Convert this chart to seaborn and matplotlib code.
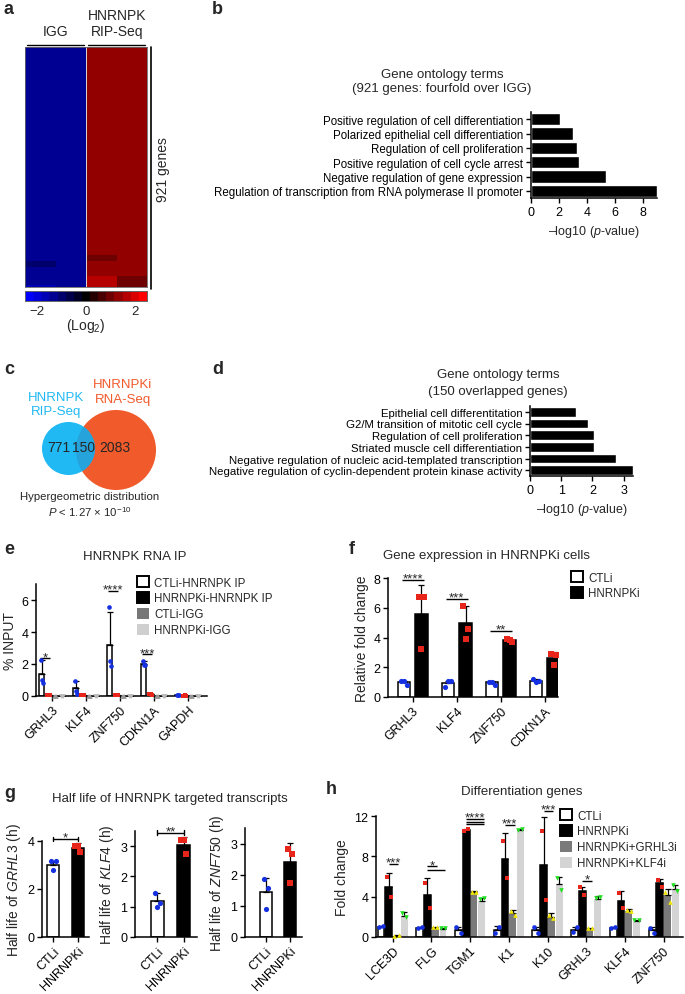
import numpy as np
import pandas as pd
import matplotlib
matplotlib.use("Agg")
import matplotlib.pyplot as plt
import seaborn as sns
from matplotlib.colors import LinearSegmentedColormap
from matplotlib.patches import Circle, Patch
from matplotlib import transforms

# ======================= DATA =======================
# a: heatmap, 921 genes shown as row blocks (rows per block, values for 4 columns)
heat_block_rows = [720, 65, 15, 23, 23, 34, 35, 6]
heat_block_vals = [
    [-1.45, -1.45, 1.45, 1.45],
    [-1.45, -1.45, 1.45, 1.30],
    [-1.45, -1.45, 1.20, 1.30],
    [-1.45, -1.45, 0.95, 1.30],
    [-1.15, -1.45, 1.40, 1.30],
    [-1.45, -1.45, 1.45, 1.40],
    [-1.45, -1.45, 1.80, 0.95],
    [-1.70, -1.45, 1.80, 0.95],
]

# b: GO terms (921 genes)
go_b_terms = ["Positive regulation of cell differentiation",
              "Polarized epithelial cell differentiation",
              "Regulation of cell proliferation",
              "Positive regulation of cell cycle arrest",
              "Negative regulation of gene expression",
              "Regulation of transcription from RNA polymerase II promoter"]
go_b_vals = [2.1, 3.0, 3.3, 3.45, 5.35, 9.0]

# c: Venn counts
venn_counts = [771, 150, 2083]

# d: GO terms (150 genes)
go_d_terms = ["Epithelial cell differentitation",
              "G2/M transition of mitotic cell cycle",
              "Regulation of cell proliferation",
              "Striated muscle cell differentiation",
              "Negative regulation of nucleic acid-templated transcription",
              "Negative regulation of cyclin-dependent protein kinase activity"]
go_d_vals = [1.47, 1.85, 2.04, 2.05, 2.74, 3.3]

# e: HNRNPK RNA IP
e_genes = ["GRHL3", "KLF4", "ZNF750", "CDKN1A", "GAPDH"]
e_conds = ["CTLi-HNRNPK IP", "HNRNPKi-HNRNPK IP", "CTLi-IGG", "HNRNPKi-IGG"]
e_means = [[1.35, 0.48, 3.2, 2.02, 0.05],
           [0.05, 0.05, 0.05, 0.10, 0.03],
           [0.02, 0.02, 0.02, 0.02, 0.02],
           [0.02, 0.02, 0.02, 0.02, 0.02]]
e_errs = [[0.9, 0.45, 2.05, 0.18, 0.02],
          [0.02, 0.02, 0.02, 0.04, 0.01],
          [0.0, 0.0, 0.0, 0.0, 0.0],
          [0.0, 0.0, 0.0, 0.0, 0.0]]
e_points = [
    [[2.25, 0.8, 1.0], [0.95, 0.15, 0.3], [5.55, 1.9, 2.2], [2.2, 1.95, 1.95], [0.08, 0.06, 0.07]],
    [[0.05, 0.04, 0.06], [0.04, 0.05, 0.06], [0.05, 0.06, 0.04], [0.12, 0.08, 0.10], [0.03, 0.02, 0.04]],
    [[0.02, 0.01, 0.02], [0.02, 0.01, 0.02], [0.02, 0.01, 0.02], [0.02, 0.01, 0.02], [0.02, 0.01, 0.02]],
    [[0.02, 0.01, 0.02], [0.02, 0.01, 0.02], [0.02, 0.01, 0.02], [0.02, 0.01, 0.02], [0.02, 0.01, 0.02]],
]
e_sig_gene = [0, 2, 3]
e_sig_y = [2.35, 6.55, 2.6]
e_sig_text = ["*", "****", "***"]

# f: gene expression in HNRNPKi cells
f_genes = ["GRHL3", "KLF4", "ZNF750", "CDKN1A"]
f_conds = ["CTLi", "HNRNPKi"]
f_means = [[1.0, 0.95, 1.0, 1.1], [5.55, 4.95, 3.85, 2.65]]
f_errs = [[0.1, 0.15, 0.08, 0.1], [2.0, 1.15, 0.08, 0.37]]
f_points = [
    [[1.1, 0.8, 1.05], [0.65, 1.05, 1.1], [1.0, 0.8, 1.0], [1.2, 1.05, 1.0]],
    [[6.7, 6.7, 3.2], [6.15, 4.6, 3.9], [3.9, 3.7, 3.85], [2.9, 2.85, 2.15]],
]
f_sig_gene = [0, 1, 2]
f_sig_y = [7.87, 6.6, 4.45]
f_sig_text = ["****", "***", "**"]

# g: half lives
g_genes = ["GRHL3", "KLF4", "ZNF750"]
g_conds = ["CTLi", "HNRNPKi"]
g_ctl = [3.02, 1.19, 1.45]
g_ctl_err = [0.12, 0.27, 0.45]
g_kd = [3.72, 3.05, 2.42]
g_kd_err = [0.18, 0.25, 0.6]
g_ctl_pts = [[3.15, 3.15, 2.8], [1.46, 1.12, 0.98], [1.85, 1.57, 0.9]]
g_kd_pts = [[3.8, 3.54, 3.8], [3.2, 2.74, 3.2], [2.84, 2.68, 1.73]]
g_ylims = [4, 3.5, 3.5]
g_yticks = [[0, 2, 4], [0, 1, 2, 3], [0, 1, 2, 3]]
g_sig_y = [4.1, 3.45, None]
g_sig_text = ["*", "**", None]

# h: differentiation genes
h_genes = ["LCE3D", "FLG", "TGM1", "K1", "K10", "GRHL3", "KLF4", "ZNF750"]
h_conds = ["CTLi", "HNRNPKi", "HNRNPKi+GRHL3i", "HNRNPKi+KLF4i"]
h_means = [[1.0, 0.9, 0.7, 0.7, 0.65, 0.7, 0.85, 0.65],
           [5.0, 4.2, 10.6, 7.75, 7.1, 4.6, 3.6, 5.4],
           [0.1, 0.9, 4.45, 2.35, 2.0, 0.8, 2.6, 4.2],
           [2.1, 0.75, 3.6, 10.6, 5.25, 3.8, 1.6, 4.75]]
h_errs = [[0.1, 0.1, 0.3, 0.35, 0.35, 0.3, 0.1, 0.3],
          [1.3, 1.7, 0.1, 2.55, 4.8, 0.4, 1.0, 0.4],
          [0.05, 0.1, 0.1, 0.35, 0.35, 0.1, 0.15, 0.6],
          [0.4, 0.15, 0.3, 0.1, 0.7, 0.3, 0.1, 0.45]]
h_points = [
    [[1.0, 1.1], [0.85, 0.95], [0.95, 0.4], [0.4, 0.95], [1.0, 0.35], [0.5, 1.0], [0.85, 0.95], [0.9, 0.35]],
    [[6.0, 4.0], [5.4, 2.9], [10.55, 10.7], [9.55, 5.9], [10.5, 3.7], [5.0, 4.2], [4.4, 2.85], [5.7, 5.0]],
    [[0.1, 0.15], [1.0, 0.95], [4.5, 4.5], [2.55, 2.2], [2.2, 1.9], [0.85, 0.85], [2.7, 2.6], [4.5, 3.5]],
    [[2.4, 2.0], [0.9, 0.85], [3.8, 3.9], [10.6, 10.7], [5.9, 4.7], [3.9, 4.0], [1.7, 1.7], [5.2, 4.6]],
]
h_sig_gene = [0, 1, 1, 2, 2, 2, 3, 4, 5]
h_sig_from = [1, 1, 1, 1, 1, 1, 1, 1, 1]
h_sig_to = [2, 2, 3, 3, 3, 3, 2, 2, 2]
h_sig_y = [7.25, 7.0, 6.65, 11.7, 11.45, 11.2, 11.1, 12.5, 5.6]
h_sig_text = ["***", "*", "", "****", "", "", "***", "***", "*"]

# ======================= STYLE =======================
sns.set_theme(style="ticks")
plt.rcParams["font.family"] = ["Liberation Sans", "DejaVu Sans"]
plt.rcParams["mathtext.fontset"] = "custom"
plt.rcParams["mathtext.rm"] = "Liberation Sans"
plt.rcParams["mathtext.it"] = "Liberation Sans:italic"
plt.rcParams["axes.linewidth"] = 1.0
plt.rcParams["axes.unicode_minus"] = True

FS_TICK = 9
FS_LAB = 9
FS_TITLE = 9.5
FS_LEG = 8.3
FS_GO_B = 8.3
FS_GO_D = 8.2
FS_SIG = 9.5

W, H = 685, 995
fig = plt.figure(figsize=(W / 100, H / 100), dpi=100)


def add_ax(x0, y0, x1, y1):
    return fig.add_axes([x0 / W, 1 - y1 / H, (x1 - x0) / W, (y1 - y0) / H])


def style_ax(ax):
    sns.despine(ax=ax)
    ax.tick_params(width=1, length=3.5, labelsize=FS_TICK, pad=2, colors="black")
    for s in ["left", "bottom"]:
        ax.spines[s].set_linewidth(1.1)
        ax.spines[s].set_color("black")


def sig(ax, x0, x1, y, text, caps=False):
    ax.plot([x0, x1], [y, y], color="black", lw=1, clip_on=False, solid_capstyle="butt")
    if caps:
        d = (ax.get_ylim()[1] - ax.get_ylim()[0]) * 0.02
        ax.plot([x0, x0], [y - d, y + d], color="black", lw=1, clip_on=False)
        ax.plot([x1, x1], [y - d, y + d], color="black", lw=1, clip_on=False)
    if text:
        tr = transforms.offset_copy(ax.transData, fig=fig, y=-1.2, units="points")
        ax.text((x0 + x1) / 2, y, text, ha="center", va="baseline", fontsize=FS_SIG,
                transform=tr, clip_on=False)


def grouped(ax, cats, levels, means, errs, colors, edges, gap, markers, mcolors, points,
            msize=11, jit=None):
    df = pd.DataFrame({"cat": [c for lv in levels for c in cats],
                       "cond": [lv for lv in levels for c in cats],
                       "val": [v for m in means for v in m]})
    sns.barplot(data=df, x="cat", y="val", hue="cond", order=cats, hue_order=levels,
                palette=dict(zip(levels, colors)), width=0.8, gap=gap, errorbar=None,
                saturation=1, legend=False, ax=ax, linewidth=1.1)
    bar_conts = list(ax.containers)
    centers = []
    for k, cont in enumerate(bar_conts):
        xs = []
        for j, bar in enumerate(cont.patches):
            bar.set_edgecolor(edges[k])
            bar.set_linewidth(1.1 if edges[k] == "black" else 0)
            bar.set_zorder(2)
            xc = bar.get_x() + bar.get_width() / 2
            xs.append(xc)
            ax.errorbar([xc], [means[k][j]], yerr=[[0], [errs[k][j]]], color="black",
                        lw=0.9, capsize=2, capthick=0.9, zorder=3)
            pts = points[k][j]
            w = bar.get_width()
            offs = jit if jit is not None else [-0.22, 0.22, 0.0][:len(pts)]
            ax.scatter([xc + o * w for o in offs[:len(pts)]], pts, marker=markers[k],
                       s=msize, color=mcolors[k], linewidths=0, zorder=4, clip_on=False)
        centers.append(xs)
    ax.set_xlabel("")
    ax.set_ylabel("")
    return centers


def legend_boxes(ax, labels, faces, edges, x, y):
    handles = [Patch(facecolor=f, edgecolor=e, linewidth=1.4 if e == "black" else 0)
               for f, e in zip(faces, edges)]
    ax.legend(handles, labels, loc="upper left", bbox_to_anchor=(x / W, 1 - y / H),
              bbox_transform=fig.transFigure, frameon=False, fontsize=FS_LEG,
              handlelength=1.05, handleheight=1.15, handletextpad=0.45,
              labelspacing=0.28, borderpad=0, borderaxespad=0)


# ======================= PANEL a =======================
heat_mat = np.vstack([np.tile(v, (n, 1)) for n, v in zip(heat_block_rows, heat_block_vals)])
ax_a = add_ax(25, 48, 147, 288)
cax = add_ax(25, 292, 147, 302)
cmap = LinearSegmentedColormap.from_list("bkr", ["#0000ff", "#000000", "#ff0000"], N=15)
sns.heatmap(heat_mat, ax=ax_a, cmap=cmap, vmin=-2.5, vmax=2.5, cbar_ax=cax,
            cbar_kws=dict(orientation="horizontal", ticks=[-2, 0, 2]),
            xticklabels=False, yticklabels=False, rasterized=True)
ax_a.axvline(2, color="#d8d8d8", lw=0.7)
for s in ax_a.spines.values():
    s.set_visible(True)
    s.set_linewidth(0.6)
    s.set_color("#666666")
cax.tick_params(length=0, labelsize=FS_TICK + 0.5, pad=3)
cax.set_xticklabels(["\u22122", "0", "2"])
for s in cax.spines.values():
    s.set_visible(True)
    s.set_linewidth(0.6)
    s.set_color("#666666")

# ======================= PANEL b =======================
ax_b = add_ax(531, 113, 657, 199)
sns.barplot(x=go_b_vals, y=go_b_terms, color="black", orient="h", width=0.85,
            saturation=1, ax=ax_b)
ax_b.set_xlim(0, 9)
ax_b.set_xticks([0, 2, 4, 6, 8])
style_ax(ax_b)
ax_b.tick_params(axis="y", labelsize=FS_GO_B)
ax_b.set_xlabel("\u2013log10 ($\\it{p}$-value)", fontsize=FS_LAB, labelpad=4)
ax_b.set_ylabel("")

# ======================= PANEL d =======================
ax_d = add_ax(530, 407, 633, 477)
sns.barplot(x=go_d_vals, y=go_d_terms, color="black", orient="h", width=0.85,
            saturation=1, ax=ax_d)
ax_d.set_xlim(0, 3.3)
ax_d.set_xticks([0, 1, 2, 3])
style_ax(ax_d)
ax_d.tick_params(axis="y", labelsize=FS_GO_D)
ax_d.set_xlabel("\u2013log10 ($\\it{p}$-value)", fontsize=FS_LAB, labelpad=4)
ax_d.set_ylabel("")

# ======================= PANEL e =======================
ax_e = add_ax(36, 585, 207, 697)
e_centers = grouped(ax_e, e_genes, e_conds, e_means, e_errs,
                    ["white", "black", "#777777", "#cfcfcf"],
                    ["black", "black", "#777777", "#cfcfcf"], 0.25,
                    ["o", "s", "^", "v"], ["#1530e0", "#e8251a", "#999999", "#bbbbbb"],
                    e_points, msize=11)
ax_e.set_xlim(-0.47, 4.56)
ax_e.set_ylim(0, 7)
ax_e.set_yticks([0, 2, 4, 6])
style_ax(ax_e)
ax_e.set_ylabel("% INPUT", fontsize=FS_LAB + 1, labelpad=3)
plt.setp(ax_e.get_xticklabels(), rotation=45, ha="right", rotation_mode="anchor")
for gi, yv, tx in zip(e_sig_gene, e_sig_y, e_sig_text):
    x0 = e_centers[0][gi] - 0.05
    x1 = e_centers[1][gi] + 0.05
    sig(ax_e, x0, x1, yv, tx)
legend_boxes(ax_e, e_conds, ["white", "black", "#777777", "#cfcfcf"],
             ["black", "black", "none", "none"], 137, 577)

# ======================= PANEL f =======================
ax_f = add_ax(388, 579, 558, 698)
f_centers = grouped(ax_f, f_genes, f_conds, f_means, f_errs, ["white", "black"],
                    ["black", "black"], 0.3, ["o", "s"], ["#1530e0", "#e8251a"], f_points,
                    msize=14)
ax_f.set_xlim(-0.56, 3.3)
ax_f.set_ylim(0, 8)
ax_f.set_yticks([0, 2, 4, 6, 8])
style_ax(ax_f)
ax_f.set_ylabel("Relative fold change", fontsize=FS_LAB + 1, labelpad=3)
plt.setp(ax_f.get_xticklabels(), rotation=45, ha="right", rotation_mode="anchor")
for gi, yv, tx in zip(f_sig_gene, f_sig_y, f_sig_text):
    sig(ax_f, f_centers[0][gi] - 0.05, f_centers[1][gi] + 0.05, yv, tx)
legend_boxes(ax_f, f_conds, ["white", "black"], ["black", "black"], 571, 572)

# ======================= PANEL g =======================
g_boxes = [(42, 842, 89, 938), (135, 832, 197, 938), (245, 829, 302, 938)]
g_xlims = [(-0.46, 1.45), (-0.85, 1.5), (-0.87, 1.5)]
for i in range(3):
    ax = add_ax(*g_boxes[i])
    sns.barplot(x=g_conds, y=[g_ctl[i], g_kd[i]], hue=g_conds, hue_order=g_conds,
                palette=["white", "black"], width=0.5, saturation=1, legend=False, ax=ax)
    xs = []
    for k, cont in enumerate(list(ax.containers)):
        for bar in cont.patches:
            bar.set_edgecolor("black")
            bar.set_linewidth(1.1)
            xs.append(bar.get_x() + bar.get_width() / 2)
    means = [g_ctl[i], g_kd[i]]
    errs = [g_ctl_err[i], g_kd_err[i]]
    pts = [g_ctl_pts[i], g_kd_pts[i]]
    for k in range(2):
        ax.errorbar([xs[k]], [means[k]], yerr=[[0], [errs[k]]], color="black", lw=0.9,
                    capsize=2.5, capthick=0.9, zorder=3)
        ax.scatter([xs[k] - 0.1, xs[k] + 0.1, xs[k]], pts[k], marker="o" if k == 0 else "s",
                   s=14, color="#1530e0" if k == 0 else "#e8251a", linewidths=0, zorder=4)
    ax.set_xlim(*g_xlims[i])
    ax.set_ylim(0, g_ylims[i])
    ax.set_yticks(g_yticks[i])
    style_ax(ax)
    ax.set_ylabel("Half life of $\\it{" + g_genes[i] + "}$ (h)", fontsize=FS_LAB + 1,
                  labelpad=3)
    ax.set_xlabel("")
    plt.setp(ax.get_xticklabels(), rotation=45, ha="right", rotation_mode="anchor")
    if g_sig_y[i] is not None:
        sig(ax, xs[0], xs[1], g_sig_y[i], g_sig_text[i], caps=True)

# ======================= PANEL h =======================
ax_h = add_ax(376, 817, 683, 938)
h_centers = grouped(ax_h, h_genes, h_conds, h_means, h_errs,
                    ["white", "black", "#7a7a7a", "#d4d4d4"],
                    ["black", "black", "#7a7a7a", "#d4d4d4"], 0.12,
                    ["o", "s", "^", "v"], ["#1530e0", "#e8251a", "#f2e600", "#22e022"],
                    h_points, msize=11, jit=[-0.3, 0.3])
ax_h.set_xlim(-0.43, 7.5)
ax_h.set_ylim(0, 12)
ax_h.set_yticks([0, 4, 8, 12])
style_ax(ax_h)
ax_h.set_ylabel("Fold change", fontsize=FS_LAB + 1, labelpad=4)
plt.setp(ax_h.get_xticklabels(), rotation=45, ha="right", rotation_mode="anchor")
for gi, a, b, yv, tx in zip(h_sig_gene, h_sig_from, h_sig_to, h_sig_y, h_sig_text):
    sig(ax_h, h_centers[a][gi], h_centers[b][gi] + 0.05, yv, tx)
legend_boxes(ax_h, h_conds, ["white", "black", "#7a7a7a", "#d4d4d4"],
             ["black", "black", "none", "none"], 560, 810)

# ======================= OVERLAY (text, venn, lines) =======================
ov = fig.add_axes([0, 0, 1, 1])
ov.set_xlim(0, W)
ov.set_ylim(H, 0)
ov.axis("off")

for lab, x, y in [("a", 4, 10), ("b", 212, 10), ("c", 4, 370), ("d", 212, 370),
                  ("e", 4, 550), ("f", 349, 550), ("g", 4, 793), ("h", 326, 790)]:
    ov.text(x, y, lab, fontsize=13, fontweight="bold", va="center", ha="left")

ov.text(56, 32, "IGG", fontsize=FS_TITLE + 0.5, ha="center", va="center")
ov.text(117, 16, "HNRNPK", fontsize=FS_TITLE + 0.5, ha="center", va="center")
ov.text(117, 32, "RIP-Seq", fontsize=FS_TITLE + 0.5, ha="center", va="center")
ov.plot([27, 84], [46, 46], color="black", lw=1)
ov.plot([88, 145], [46, 46], color="black", lw=1)
ov.plot([151, 151], [48, 290], color="black", lw=1.2)
ov.text(163, 170, "921 genes", fontsize=FS_TITLE + 0.5, ha="center", va="center", rotation=90)
ov.text(86, 326, "(Log$_2$)", fontsize=FS_TITLE + 0.5, ha="center", va="center")

ov.text(442, 75, "Gene ontology terms", fontsize=FS_TITLE, ha="center", va="center")
ov.text(442, 89, "(921 genes: fourfold over IGG)", fontsize=FS_TITLE, ha="center", va="center")
ov.text(498, 375, "Gene ontology terms", fontsize=FS_TITLE, ha="center", va="center")
ov.text(498, 392, "(150 overlapped genes)", fontsize=FS_TITLE, ha="center", va="center")
ov.text(135, 557, "HNRNPK RNA IP", fontsize=FS_TITLE, ha="center", va="center")
ov.text(487, 556, "Gene expression in HNRNPKi cells", fontsize=FS_TITLE, ha="center", va="center")
ov.text(170, 799, "Half life of HNRNPK targeted transcripts", fontsize=FS_TITLE, ha="center",
        va="center")
ov.text(522, 792, "Differentiation genes", fontsize=FS_TITLE, ha="center", va="center")

red_c = Circle((116, 451), 40, facecolor="#f15a2b", edgecolor="none")
blue_c = Circle((68.5, 449.5), 26.5, facecolor="#20b9f3", edgecolor="none")
ov.add_patch(red_c)
ov.add_patch(blue_c)
overlap = Circle((116, 451), 40, facecolor="#27a3dc", edgecolor="none")
ov.add_patch(overlap)
overlap.set_clip_path(blue_c)
ov.text(59, 448, str(venn_counts[0]), fontsize=10, ha="center", va="center")
ov.text(84, 448, str(venn_counts[1]), fontsize=10, ha="center", va="center")
ov.text(115, 448, str(venn_counts[2]), fontsize=10, ha="center", va="center")
ov.text(56, 398, "HNRNPK", fontsize=FS_TITLE, ha="center", va="center", color="#20b9f3")
ov.text(56, 412, "RIP-Seq", fontsize=FS_TITLE, ha="center", va="center", color="#20b9f3")
ov.text(123, 385, "HNRNPKi", fontsize=FS_TITLE, ha="center", va="center", color="#f15a2b")
ov.text(123, 400, "RNA-Seq", fontsize=FS_TITLE, ha="center", va="center", color="#f15a2b")
ov.text(90, 497, "Hypergeometric distribution", fontsize=8.2, ha="center", va="center")
ov.text(90, 512, "$\\it{P}$ < 1.27 \u00d7 10$^{\u221210}$", fontsize=8.2, ha="center",
        va="center")

fig.savefig("out.png", dpi=100)
